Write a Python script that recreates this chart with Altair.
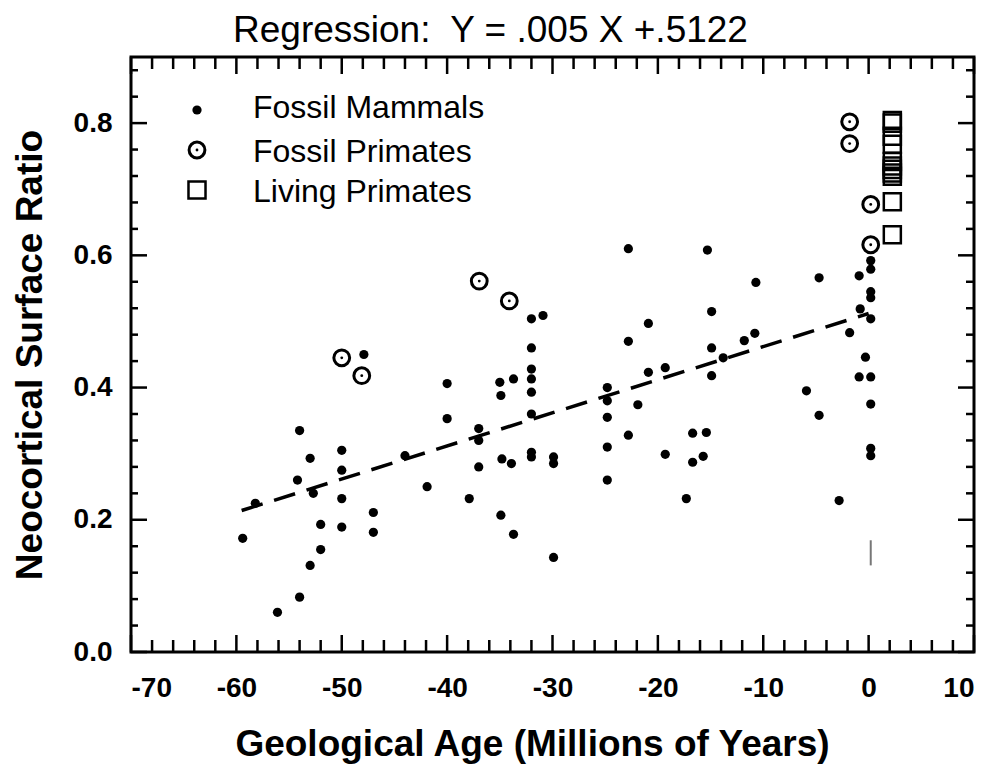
import altair as alt
import pandas as pd

# ---------------- data ----------------
mammal_x = [-59.4, -58.2, -56.1, -54.0, -54.0, -53.0, -54.2, -52.7, -53.0, -52.0,
            -52.0, -50.0, -50.0, -50.0, -50.0, -47.0, -47.0, -47.9, -44.0, -41.9,
            -40.0, -40.0, -37.9, -37.0, -37.0, -37.0, -35.0, -34.9, -33.7, -34.8,
            -33.9, -34.9, -33.7, -32.0, -30.9, -32.0, -32.0, -32.0, -32.0, -32.0,
            -32.0, -32.0, -29.9, -29.9, -29.9,
            -22.8, -15.3, -10.7, -4.7, -22.8, -20.9, -14.9, -14.9, -11.8, -10.8,
            -24.8, -24.8, -24.8, -24.8, -24.8, -22.8, -21.9, -20.9, -19.3, -19.3,
            -17.3, -16.7, -16.7, -15.4, -15.7, -14.9, -13.8, -5.9, -4.7, -2.8,
            0.2, 0.2, -0.9, 0.2, 0.2, -0.8, 0.2, -1.8, -0.3, -0.9,
            0.2, 0.2, 0.2, 0.2]
mammal_y = [0.172, 0.225, 0.060, 0.083, 0.335, 0.293, 0.260, 0.240, 0.131, 0.155,
            0.193, 0.305, 0.275, 0.232, 0.189, 0.211, 0.181, 0.450, 0.297, 0.250,
            0.406, 0.353, 0.232, 0.338, 0.320, 0.280, 0.408, 0.388, 0.413, 0.292,
            0.285, 0.207, 0.178, 0.504, 0.509, 0.460, 0.428, 0.413, 0.393, 0.360,
            0.302, 0.295, 0.295, 0.285, 0.143,
            0.610, 0.608, 0.559, 0.566, 0.470, 0.497, 0.515, 0.460, 0.471, 0.482,
            0.400, 0.380, 0.355, 0.310, 0.260, 0.328, 0.374, 0.423, 0.430, 0.299,
            0.232, 0.331, 0.287, 0.332, 0.296, 0.418, 0.445, 0.395, 0.358, 0.229,
            0.592, 0.579, 0.569, 0.545, 0.536, 0.519, 0.504, 0.483, 0.446, 0.416,
            0.416, 0.375, 0.308, 0.297]

fossil_primate_x = [-50.0, -48.1, -36.95, -34.1, -1.8, -1.8, 0.2, 0.2]
fossil_primate_y = [0.445, 0.418, 0.561, 0.531, 0.802, 0.769, 0.677, 0.616]

living_primate_x = [2.25] * 11
living_primate_y = [0.804, 0.800, 0.780, 0.768, 0.742, 0.735, 0.730,
                    0.7245, 0.7195, 0.681, 0.631]

reg_x = [-59.5, 0.0]
reg_y = [0.214, 0.512]

mark_x = [0.2]
mark_y1 = [0.131]
mark_y2 = [0.169]

legend_labels = ["Fossil Mammals", "Fossil Primates", "Living Primates"]
title_text = "Regression:\u00a0 Y = .005 X +.5122"
x_title = "Geological Age (Millions of Years)"
y_title = "Neocortical Surface Ratio"

x_major = list(range(-70, 11, 10))
x_minor = [v for v in range(-70, 11, 2) if v % 10 != 0]
y_major = [0.0, 0.2, 0.4, 0.6, 0.8]
y_minor = [round(0.04 * k, 2) for k in range(1, 23) if k % 5 != 0]

# ---------------- chart ----------------
W, H = 843, 595
FONT = "Liberation Sans"
xs = alt.Scale(domain=[-70, 10], nice=False, zero=False)
ys = alt.Scale(domain=[0, 0.9], nice=False, zero=False)

xaxis = alt.Axis(values=x_major, title=x_title, labelExpr="'' + datum.value",
                 labelFont=FONT, labelFontSize=28, labelFontWeight="bold",
                 labelPadding=22, ticks=False, domain=False, grid=False,
                 titleFont=FONT, titleFontSize=37, titleFontWeight="bold",
                 titlePadding=24, titleX=401, titleAlign="center",
                 labelColor="black", titleColor="black")
yaxis = alt.Axis(values=y_major, title=y_title, format=".1f",
                 labelFont=FONT, labelFontSize=28, labelFontWeight="bold",
                 labelPadding=19, ticks=False, domain=False, grid=False,
                 titleFont=FONT, titleFontSize=37, titleFontWeight="bold",
                 titlePadding=24, labelColor="black", titleColor="black")

X = lambda f: alt.X(f, scale=xs, axis=xaxis)
Y = lambda f: alt.Y(f, scale=ys, axis=yaxis)

dummy = pd.DataFrame({"d": [0]})

def xtick(vals, length, bottom=True):
    df = pd.DataFrame({"v": vals})
    y0 = H if bottom else 0
    y1 = H - length if bottom else length
    return alt.Chart(df).mark_rule(color="black", strokeWidth=2.5).encode(
        x=X("v:Q"), y=alt.value(y0), y2=alt.value(y1))

def ytick(vals, length, left=True):
    df = pd.DataFrame({"v": vals})
    x0 = 0 if left else W
    x1 = length if left else W - length
    return alt.Chart(df).mark_rule(color="black", strokeWidth=2.5).encode(
        y=Y("v:Q"), x=alt.value(x0), x2=alt.value(x1))

mammals = alt.Chart(pd.DataFrame({"x": mammal_x, "y": mammal_y})).mark_circle(
    size=85, color="black", opacity=1).encode(x=X("x:Q"), y=Y("y:Q"))

ticks = [xtick(x_major, 17, True), xtick(x_minor, 12, True),
         xtick(x_major, 17, False), xtick(x_minor, 12, False),
         ytick(y_major, 16, True), ytick(y_minor, 7, True),
         ytick(y_major, 16, False), ytick(y_minor, 8, False)]

fp_df = pd.DataFrame({"x": fossil_primate_x, "y": fossil_primate_y})
fp_ring = alt.Chart(fp_df).mark_point(
    shape="circle", size=250, filled=False, stroke="black", strokeWidth=3,
    fill="white", opacity=1).encode(x=X("x:Q"), y=Y("y:Q"))
fp_dot = alt.Chart(fp_df).mark_circle(size=8, color="black", opacity=1).encode(
    x=X("x:Q"), y=Y("y:Q"))

living = alt.Chart(pd.DataFrame({"x": living_primate_x, "y": living_primate_y})).mark_point(
    shape="square", size=290, filled=False, stroke="black", strokeWidth=2.5,
    opacity=1).encode(x=X("x:Q"), y=Y("y:Q"))

reg = alt.Chart(pd.DataFrame({"x": reg_x, "y": reg_y})).mark_line(
    color="black", strokeWidth=3.5, strokeDash=[22, 12]).encode(x=X("x:Q"), y=Y("y:Q"))

grey = alt.Chart(pd.DataFrame({"x": mark_x, "y": mark_y1, "y2": mark_y2})).mark_rule(
    color="#777777", strokeWidth=2).encode(x=X("x:Q"), y=Y("y:Q"), y2="y2:Q")

# legend (drawn inside the plot, top-left)
leg_sym_x = 66
leg_rows = [53, 93, 133]
leg_text_y = [61, 105, 145]
leg = [
    alt.Chart(dummy).mark_circle(size=85, color="black", opacity=1).encode(
        x=alt.value(leg_sym_x), y=alt.value(leg_rows[0])),
    alt.Chart(dummy).mark_point(shape="circle", size=250, filled=False, stroke="black",
                                strokeWidth=3, opacity=1).encode(
        x=alt.value(leg_sym_x), y=alt.value(leg_rows[1])),
    alt.Chart(dummy).mark_circle(size=8, color="black", opacity=1).encode(
        x=alt.value(leg_sym_x), y=alt.value(leg_rows[1])),
    alt.Chart(dummy).mark_point(shape="square", size=290, filled=False, stroke="black",
                                strokeWidth=2.5, opacity=1).encode(
        x=alt.value(leg_sym_x), y=alt.value(leg_rows[2])),
]
for lab, ty in zip(legend_labels, leg_text_y):
    leg.append(alt.Chart(dummy).mark_text(
        text=lab, align="left", baseline="alphabetic", font=FONT, fontSize=32,
        color="black").encode(x=alt.value(122), y=alt.value(ty)))

title = alt.Chart(dummy).mark_text(
    text=title_text, align="left", baseline="alphabetic", font=FONT, fontSize=37,
    color="black").encode(x=alt.value(102), y=alt.value(-15))

chart = alt.layer(mammals, *ticks, reg, grey, fp_ring, fp_dot, living, *leg, title).properties(
    width=W, height=H,
    autosize=alt.AutoSizeParams(type="none"),
    padding={"left": 123, "top": 49, "right": 10, "bottom": 112},
).configure_view(stroke="black", strokeWidth=3)

chart.save("out.html", embed_options={"renderer": "svg", "actions": False})
